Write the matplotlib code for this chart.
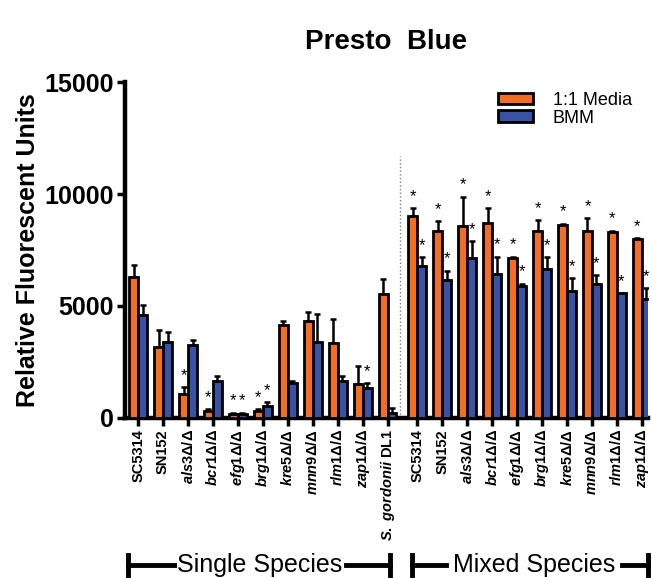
import numpy as np
import matplotlib.pyplot as plt
from matplotlib.patches import Patch

plt.rcParams['font.family'] = ['Liberation Sans', 'DejaVu Sans']
plt.rcParams['mathtext.fontset'] = 'custom'
plt.rcParams['mathtext.rm'] = 'Liberation Sans:bold'
plt.rcParams['mathtext.it'] = 'Liberation Sans:bold:italic'
plt.rcParams['mathtext.bf'] = 'Liberation Sans:bold'

# data
strains = ['SC5314', 'SN152', 'als3', 'bcr1', 'efg1', 'brg1', 'kre5', 'mnn9', 'rlm1', 'zap1']
single_media = [6300, 3180, 1070, 300, 180, 300, 4150, 4330, 3330, 1500]
single_media_err = [550, 740, 300, 80, 60, 80, 190, 380, 1070, 820]
single_bmm = [4590, 3400, 3250, 1670, 180, 535, 1580, 3400, 1670, 1320]
single_bmm_err = [450, 450, 230, 220, 60, 175, 60, 1240, 200, 230]
gordonii_media, gordonii_media_err = 5530, 660
gordonii_bmm, gordonii_bmm_err = 200, 250
mixed_media = [9000, 8360, 8590, 8710, 7140, 8360, 8630, 8360, 8290, 7990]
mixed_media_err = [380, 420, 1290, 650, 60, 480, 50, 570, 80, 50]
mixed_bmm = [6800, 6160, 7140, 6430, 5910, 6650, 5650, 5980, 5570, 5320]
mixed_bmm_err = [370, 420, 750, 770, 80, 520, 600, 390, 0, 460]
# significance stars (media, bmm)
single_stars = [(0, 0), (0, 0), (1, 0), (1, 0), (1, 1), (1, 1), (0, 0), (0, 0), (0, 0), (0, 1)]
mixed_stars = [(1, 1)] * 10

orange = '#F36E24'
blue = '#3A52A6'

media = single_media + [gordonii_media] + mixed_media
media_err = single_media_err + [gordonii_media_err] + mixed_media_err
bmm = single_bmm + [gordonii_bmm] + mixed_bmm
bmm_err = single_bmm_err + [gordonii_bmm_err] + mixed_bmm_err
stars = single_stars + [(0, 0)] + mixed_stars

x = np.concatenate([np.arange(11), np.arange(10) + 11.2])
labels = []
for s in strains:
    if s in ('SC5314', 'SN152'):
        labels.append(s)
    else:
        labels.append(r'$\it{' + s + r'\Delta/\Delta}$')
labels_all = labels + [r'$\it{S.\ gordonii}$ DL1'] + labels

fig = plt.figure(figsize=(6.52, 5.78), dpi=100)
ax = fig.add_axes([0.192, 0.277, 0.802, 0.581])

w = 0.36
ax.bar(x - w / 2, media, w, color=orange, edgecolor='black', linewidth=2, zorder=3)
ax.bar(x + w / 2, bmm, w, color=blue, edgecolor='black', linewidth=2, zorder=3)
ax.errorbar(x - w / 2, media, yerr=[np.zeros(len(media)), media_err], fmt='none',
            ecolor='black', elinewidth=1.8, capsize=2.5, capthick=1.8, zorder=2)
ax.errorbar(x + w / 2, bmm, yerr=[np.zeros(len(bmm)), bmm_err], fmt='none',
            ecolor='black', elinewidth=1.8, capsize=2.5, capthick=1.8, zorder=2)

for i in range(len(x)):
    if stars[i][0]:
        ax.annotate('*', (x[i] - w / 2, media[i] + media_err[i]), xytext=(0, 3),
                    textcoords='offset points', ha='center', va='bottom', fontsize=12)
    if stars[i][1]:
        ax.annotate('*', (x[i] + w / 2, bmm[i] + bmm_err[i]), xytext=(0, 3),
                    textcoords='offset points', ha='center', va='bottom', fontsize=12)

ax.plot([10.5, 10.5], [0, 11700], color='gray', linestyle=':', linewidth=1, zorder=1)

ax.set_xlim(-0.52, 20.45)
ax.set_ylim(0, 15000)
ax.set_yticks([0, 5000, 10000, 15000])
ax.set_yticklabels(['0', '5000', '10000', '15000'], fontsize=18, fontweight='bold')
ax.set_xticks(x)
ax.set_xticklabels(labels_all, rotation=90, fontsize=10.5, fontweight='bold')
ax.tick_params(axis='both', width=2.5, length=6, direction='out')
ax.tick_params(axis='y', pad=2)
ax.tick_params(axis='x', pad=2)
ax.set_ylabel('Relative Fluorescent Units', fontsize=18, fontweight='bold', labelpad=3)
for side in ['top', 'right']:
    ax.spines[side].set_visible(False)
for side in ['left', 'bottom']:
    ax.spines[side].set_linewidth(3.2)

fig.text(0.592, 0.928, 'Presto  Blue', ha='center', va='center', fontsize=20, fontweight='bold')

ax.legend(handles=[Patch(facecolor=orange, edgecolor='black', linewidth=2, label='1:1 Media'),
                   Patch(facecolor=blue, edgecolor='black', linewidth=2, label='BMM')],
          loc='upper right', bbox_to_anchor=(1.0, 1.02), frameon=False, fontsize=13,
          handlelength=1.95, handleheight=0.6, labelspacing=0.05, handletextpad=1.1)

# group brackets under the axis
def bracket(x0, x1, t0, t1, text):
    y = 0.023
    fig.add_artist(plt.Line2D([x0, t0], [y, y], color='black', linewidth=3.5))
    fig.add_artist(plt.Line2D([t1, x1], [y, y], color='black', linewidth=3.5))
    fig.add_artist(plt.Line2D([x0, x0], [y - 0.017, y + 0.017], color='black', linewidth=3.5))
    fig.add_artist(plt.Line2D([x1, x1], [y - 0.017, y + 0.017], color='black', linewidth=3.5))
    fig.text((t0 + t1) / 2, y, text, ha='center', va='center', fontsize=18)

bracket(128 / 652, 390 / 652, 174 / 652, 346 / 652, 'Single Species')
bracket(412 / 652, 648 / 652, 446 / 652, 622 / 652, 'Mixed Species')

fig.savefig('out.png', dpi=100)
